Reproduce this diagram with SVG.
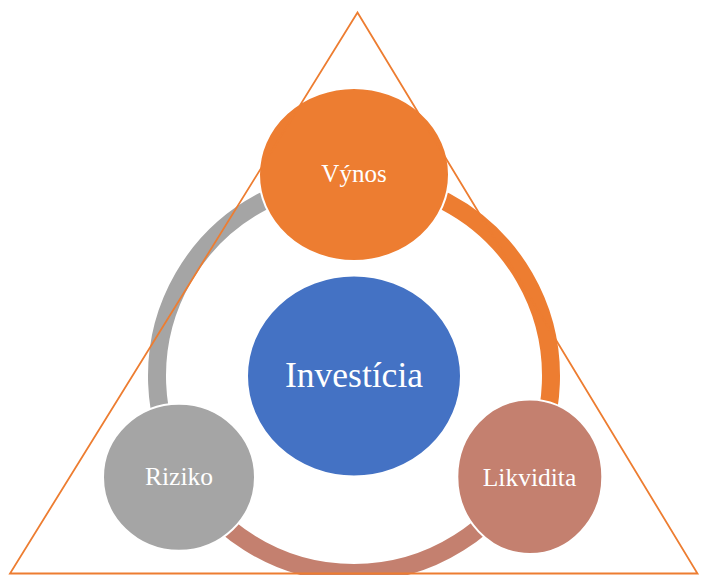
<svg xmlns="http://www.w3.org/2000/svg" width="701" height="575" viewBox="0 0 701 575">
<style>
.arc{fill:none;stroke-width:18}
.node{stroke:#ffffff;stroke-width:2}
.lbl{font-family:"Liberation Serif","Times New Roman",serif;fill:#ffffff;text-anchor:middle}
</style>
<rect width="701" height="575" fill="#ffffff"/>
<g id="connectors">
<path class="arc" stroke="#A5A5A5" d="M183.4,474.5 A197,197 0 0 1 354,179"/>
<path class="arc" stroke="#ED7D31" d="M354,179 A197,197 0 0 1 524.6,474.5"/>
<path class="arc" stroke="#C4806F" d="M524.6,474.5 A197,197 0 0 1 183.4,474.5"/>
</g>
<g id="node-vynos">
<ellipse class="node" cx="354" cy="174.5" rx="95" ry="86.5" fill="#ED7D31"/>
<text class="lbl" x="354" y="182" font-size="25">Výnos</text>
</g>
<g id="node-riziko">
<ellipse class="node" cx="179" cy="477.3" rx="76" ry="73.5" fill="#A5A5A5"/>
<text class="lbl" x="179" y="485" font-size="25.5">Riziko</text>
</g>
<g id="node-likvidita">
<ellipse class="node" cx="529.8" cy="476.7" rx="72.5" ry="77.3" fill="#C4806F"/>
<text class="lbl" x="529.5" y="485.5" font-size="25.5">Likvidita</text>
</g>
<g id="node-investicia">
<ellipse class="node" cx="354" cy="376" rx="107" ry="100.5" fill="#4472C4"/>
<text class="lbl" x="354" y="387" font-size="35.5">Investícia</text>
</g>
<g id="triangle">
<polygon points="357.5,12.5 10,573.5 697.5,573.5" fill="none" stroke="#ED7D31" stroke-width="1.8"/>
</g>
</svg>
